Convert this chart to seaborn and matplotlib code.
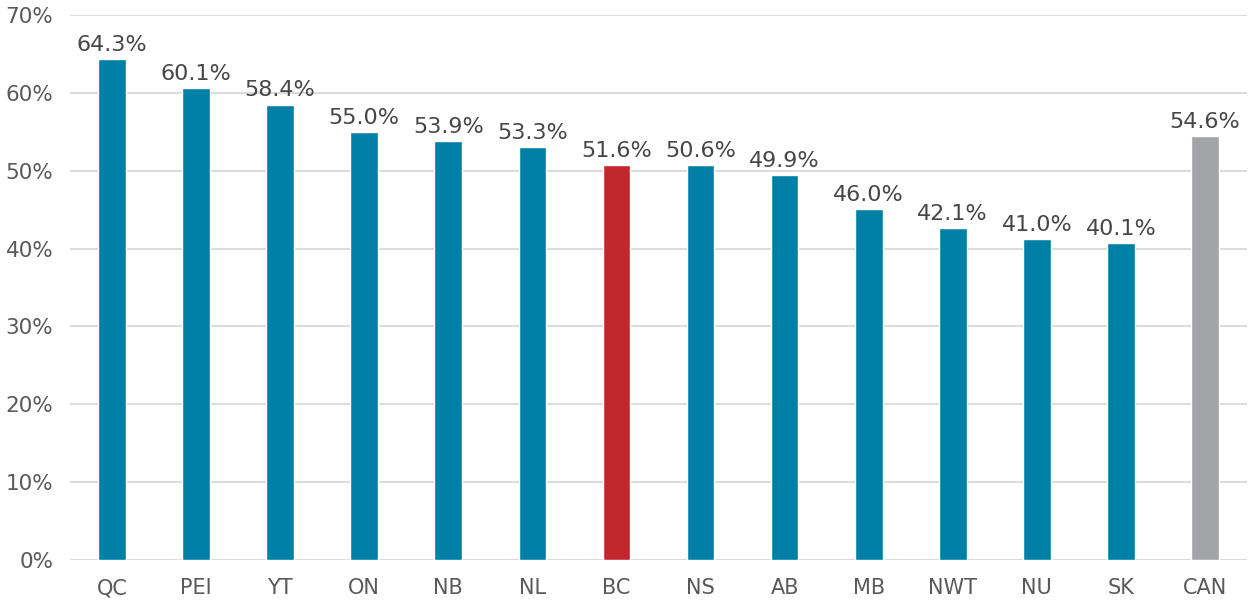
import matplotlib
matplotlib.use("Agg")
import matplotlib.pyplot as plt
import seaborn as sns
import pandas as pd
from matplotlib.ticker import FuncFormatter

categories = ["QC", "PEI", "YT", "ON", "NB", "NL", "BC", "NS", "AB", "MB", "NWT", "NU", "SK", "CAN"]
bar_values = [64.3, 60.6, 58.5, 55.0, 53.8, 53.0, 50.7, 50.7, 49.4, 45.1, 42.6, 41.2, 40.7, 54.4]
value_labels = ["64.3%", "60.1%", "58.4%", "55.0%", "53.9%", "53.3%", "51.6%", "50.6%",
                "49.9%", "46.0%", "42.1%", "41.0%", "40.1%", "54.6%"]
y_ticks = [0, 10, 20, 30, 40, 50, 60, 70]

BLUE = "#0080A6"
RED = "#C1272D"
GRAY = "#A3A4A8"
colors = [RED if c == "BC" else GRAY if c == "CAN" else BLUE for c in categories]

sns.set_theme(style="white")
plt.rcParams["font.family"] = ["DejaVu Sans"]

df = pd.DataFrame({"region": categories, "value": bar_values})

fig = plt.figure(figsize=(12.49, 6.01), dpi=100)
ax = fig.add_axes([70 / 1249, 41 / 601, 1177 / 1249, 545 / 601])

sns.barplot(data=df, x="region", y="value", hue="region", palette=colors,
            width=0.33, legend=False, ax=ax, saturation=1, zorder=3)

for i, (v, lab) in enumerate(zip(bar_values, value_labels)):
    ax.annotate(lab, (i, v), xytext=(0, 3), textcoords="offset points",
                ha="center", va="bottom", fontsize=16, color="#464646")

ax.set_xlim(-0.5, len(categories) - 0.5)
ax.set_ylim(0, 70)
ax.set_yticks(y_ticks)
ax.yaxis.set_major_formatter(FuncFormatter(lambda v, p: f"{int(v)}%"))
ax.grid(axis="y", color="#DCDCDC", linewidth=1.5, zorder=0)
ax.grid(axis="x", visible=False)
for s in ax.spines.values():
    s.set_visible(False)
ax.tick_params(axis="y", length=0, pad=12, labelsize=15.5, labelcolor="#595959")
ax.tick_params(axis="x", length=0, pad=13, labelsize=15, labelcolor="#595959")
ax.set_xlabel("")
ax.set_ylabel("")

fig.savefig("out.png", dpi=100)
